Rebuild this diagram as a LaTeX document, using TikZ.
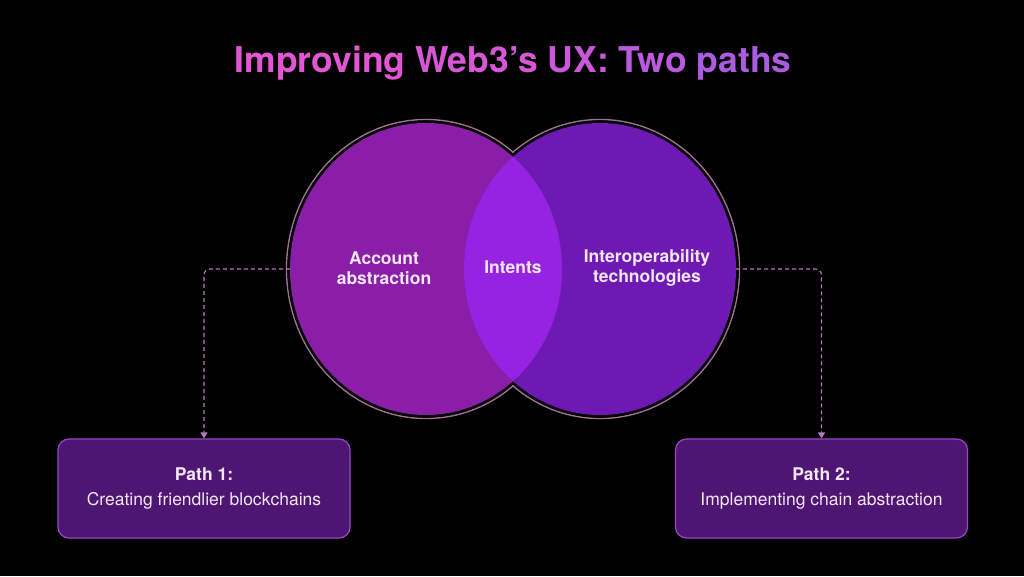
\documentclass[tikz,border=0pt]{standalone}
\usepackage{fontspec}
\setmainfont{TeX Gyre Heros}
\usetikzlibrary{shapes.geometric,arrows.meta}
\definecolor{bg}{HTML}{000000}
\definecolor{cleft}{HTML}{8A1EA8}
\definecolor{cright}{HTML}{6E19B4}
\definecolor{clens}{HTML}{9623E1}
\definecolor{ring}{HTML}{A07096}
\definecolor{boxfill}{HTML}{4E1673}
\definecolor{boxline}{HTML}{9B45C8}
\definecolor{txt}{HTML}{F4E6F4}
\definecolor{conn}{HTML}{B878C0}
\definecolor{tA}{HTML}{E355D2}
\definecolor{tB}{HTML}{D857D6}
\definecolor{tC}{HTML}{CA59DA}
\definecolor{tD}{HTML}{BC5ADD}
\definecolor{tE}{HTML}{AC5CE0}
\tikzset{
  circlab/.style={text=txt,font=\fontsize{17.5}{20.5}\selectfont\bfseries,align=center},
  pathbox/.style={draw=boxline,line width=1.2pt,fill=boxfill,rounded corners=11pt,
    minimum width=292pt,minimum height=99pt,text=txt,align=center,
    font=\fontsize{17.5}{25.5}\selectfont},
  conline/.style={draw=conn,line width=1.2pt,dash pattern=on 4pt off 3pt,rounded corners=6pt,
    -{Triangle[width=7pt,length=6pt]}},
  venn/.style={ellipse,minimum width=272pt,minimum height=292pt,inner sep=0pt}
}
\begin{document}
\begin{tikzpicture}[x=1pt,y=-1pt]
\useasboundingbox (0,0) rectangle (1024,576);
\fill[bg] (0,0) rectangle (1024,576);
% title
\node (title) at (513,63) {\fontsize{35.5}{40}\selectfont\bfseries
  \textcolor{tA}{Improving} \textcolor{tB}{Web3’s} \textcolor{tC}{UX:} \textcolor{tD}{Two} \textcolor{tE}{paths}};
% venn shapes
\node[venn] (la) at (426,269) {};
\node[venn] (ra) at (600,269) {};
\draw[ring,line width=1.4pt] (426,269) ellipse [x radius=139.5, y radius=149.5];
\draw[ring,line width=1.4pt] (600,269) ellipse [x radius=139.5, y radius=149.5];
\fill[bg] (426,269) ellipse [x radius=138.5, y radius=148.5];
\fill[bg] (600,269) ellipse [x radius=138.5, y radius=148.5];
\fill[cleft] (426,269) ellipse [x radius=136, y radius=146];
\fill[cright] (600,269) ellipse [x radius=136, y radius=146];
\begin{scope}
  \clip (426,269) ellipse [x radius=136, y radius=146];
  \fill[clens] (600,269) ellipse [x radius=136, y radius=146];
\end{scope}
% labels
\node[circlab] (lab1) at (384,268) {Account\\abstraction};
\node[circlab] (lab2) at (513,267) {Intents};
\node[circlab] (lab3) at (647,268) {Interoperability\\technologies};
% boxes
\node[pathbox] (b1) at (204,488.5) {\textbf{Path 1:}\\Creating friendlier blockchains};
\node[pathbox] (b2) at (821.5,488.5) {\textbf{Path 2:}\\Implementing chain abstraction};
% connectors
\draw[conline] (la.west) -| (b1.north);
\draw[conline] (ra.east) -| (b2.north);
\end{tikzpicture}
\end{document}
